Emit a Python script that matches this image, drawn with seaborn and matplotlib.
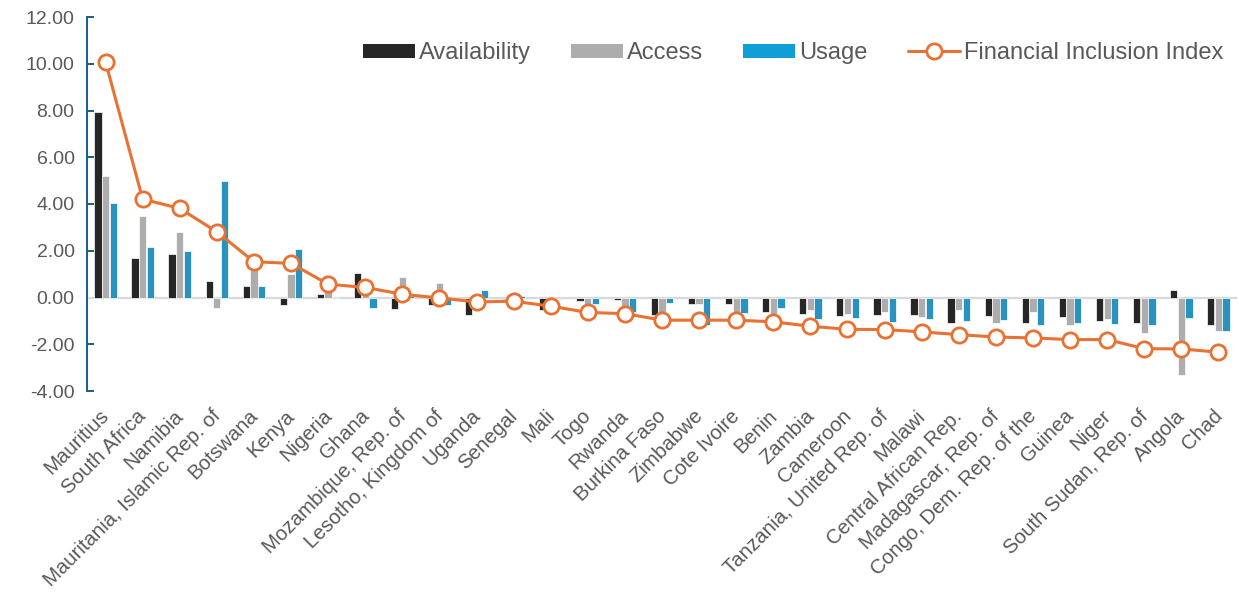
import numpy as np
import pandas as pd
import matplotlib
matplotlib.use("Agg")
import matplotlib.pyplot as plt
import matplotlib.transforms as mtransforms
import seaborn as sns
from matplotlib.patches import Patch
from matplotlib.lines import Line2D

countries = [
    "Mauritius", "South Africa", "Namibia", "Mauritania, Islamic Rep. of",
    "Botswana", "Kenya", "Nigeria", "Ghana", "Mozambique, Rep. of",
    "Lesotho, Kingdom of", "Uganda", "Senegal", "Mali", "Togo", "Rwanda",
    "Burkina Faso", "Zimbabwe", "Cote Ivoire", "Benin", "Zambia", "Cameroon",
    "Tanzania, United Rep. of", "Malawi", "Central African Rep.",
    "Madagascar, Rep. of", "Congo, Dem. Rep. of the", "Guinea", "Niger",
    "South Sudan, Rep. of", "Angola", "Chad",
]
availability = [7.95, 1.71, 1.84, 0.71, 0.50, -0.34, 0.17, 1.05, -0.51, -0.32,
                -0.73, -0.05, -0.54, -0.16, -0.12, -0.76, -0.26, -0.29, -0.62,
                -0.69, -0.79, -0.76, -0.76, -1.11, -0.79, -1.11, -0.83, -1.02,
                -1.09, 0.30, -1.17]
access = [5.19, 3.48, 2.80, -0.44, 1.35, 1.00, 0.30, 0.10, 0.86, 0.64,
          0.17, -0.03, -0.20, -0.33, -0.54, -0.62, -0.26, -0.76, -0.69,
          -0.54, -0.70, -0.62, -0.83, -0.54, -1.09, -0.63, -1.17, -0.94,
          -1.54, -3.30, -1.43]
usage = [4.03, 2.14, 2.00, 4.97, 0.50, 2.07, 0.03, -0.46, 0.05, -0.32,
         0.31, 0.06, -0.05, -0.26, -0.62, -0.23, -1.16, -0.66, -0.43,
         -0.90, -0.87, -1.04, -0.92, -1.02, -0.97, -1.16, -1.11, -1.14,
         -1.17, -0.89, -1.43]
inclusion_index = [10.08, 4.21, 3.81, 2.81, 1.53, 1.46, 0.57, 0.43, 0.14, -0.02,
                   -0.19, -0.16, -0.37, -0.64, -0.69, -0.97, -0.97, -0.97, -1.04,
                   -1.23, -1.36, -1.37, -1.47, -1.59, -1.69, -1.73, -1.80, -1.80,
                   -2.19, -2.20, -2.34]

dimensions = ["Availability", "Access", "Usage"]
bar_colors = ["#262626", "#ADADAD", "#0F9ED5"]
line_color = "#E97132"
axis_color = "#156082"
text_color = "#595959"

sns.set_theme(style="white")
plt.rcParams["font.family"] = ["Liberation Sans", "DejaVu Sans"]

scores = pd.DataFrame({
    "country": countries,
    "Availability": availability,
    "Access": access,
    "Usage": usage,
})
long = scores.melt(id_vars="country", var_name="dimension", value_name="score")

fig = plt.figure(figsize=(12.39, 5.95), dpi=100)
ax = fig.add_axes([87 / 1239, 1 - 391 / 595, 1150 / 1239, 374 / 595])

ax.axhline(0, color="#D9D9D9", lw=1.6, zorder=1)

sns.barplot(data=long, x="country", y="score", hue="dimension",
            order=countries, hue_order=dimensions, palette=bar_colors,
            width=0.62, gap=0.05, edgecolor="white", linewidth=0.5,
            legend=False, ax=ax, zorder=2)

positions = np.arange(len(countries))
sns.lineplot(x=positions, y=inclusion_index, ax=ax, color=line_color, lw=2.2,
             marker="o", markersize=11, markerfacecolor="white",
             markeredgecolor=line_color, markeredgewidth=2.0, zorder=4)

ax.set_xlim(-0.5, len(countries) - 0.5)
ax.set_ylim(-4, 12)
ax.set_yticks(np.arange(-4, 12.01, 2))
ax.yaxis.set_major_formatter(matplotlib.ticker.FormatStrFormatter("%.2f"))
ax.set_xlabel("")
ax.set_ylabel("")

for side in ("top", "right", "bottom"):
    ax.spines[side].set_visible(False)
ax.spines["left"].set_color(axis_color)
ax.spines["left"].set_linewidth(1.4)

ax.tick_params(axis="y", direction="in", length=5, width=1.4, color=axis_color,
               labelsize=14, labelcolor=text_color, pad=9, left=True)
ax.tick_params(axis="x", length=0, labelsize=14.7, labelcolor=text_color, pad=11)

ax.set_xticks(positions)
ax.set_xticklabels(countries)
shift = mtransforms.ScaledTranslation(-6 / 100, 0, fig.dpi_scale_trans)
for lab in ax.get_xticklabels():
    lab.set_rotation(45)
    lab.set_ha("right")
    lab.set_va("top")
    lab.set_rotation_mode("anchor")
    lab.set_transform(lab.get_transform() + shift)

handles = [Patch(facecolor=c, edgecolor="none") for c in bar_colors]
handles.append(Line2D([], [], color=line_color, lw=2.2, marker="o", markersize=11,
                      markerfacecolor="white", markeredgecolor=line_color,
                      markeredgewidth=2.0))
leg = ax.legend(handles, dimensions + ["Financial Inclusion Index"],
                loc="center right", bbox_to_anchor=(0.988, 0.903), ncol=4,
                frameon=False, fontsize=17, handlelength=2.2,
                handleheight=0.58, handletextpad=0.17, columnspacing=1.7,
                borderpad=0, borderaxespad=0)
for t in leg.get_texts():
    t.set_color(text_color)

fig.savefig("out.png", dpi=100)
